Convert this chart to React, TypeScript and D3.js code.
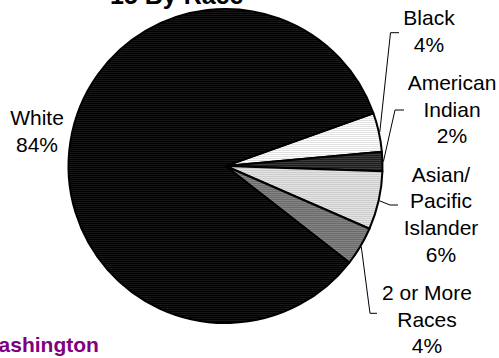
import React from "react";
import * as d3 from "d3";

// Share of the population by race (percent)
const categories = ["Black", "American Indian", "Asian/ Pacific Islander", "2 or More Races", "White"];
const values = [4, 2, 6, 4, 84];
const labelLines = [
  ["Black", "4%"],
  ["American", "Indian", "2%"],
  ["Asian/", "Pacific", "Islander", "6%"],
  ["2 or More", "Races", "4%"],
  ["White", "84%"],
];

const W = 499;
const H = 358;
const cx = 225.5;
const cy = 166;
const R = 157;
const FONT = "'Liberation Sans', Arial, Helvetica, sans-serif";
const LINE_H = 26.7;

// label placement: centre x, first baseline, optional leader elbow
const labelLayout = [
  { x: 429, y: 25, elbow: [390.5, 32.7], end: 399 },
  { x: 452, y: 90, elbow: [395, 110], end: 404 },
  { x: 441, y: 181.7, elbow: [390, 205], end: 398 },
  { x: 427, y: 300, elbow: [370, 313.3], end: 377 },
  { x: 37, y: 125, elbow: null, end: 0 },
];

// fill textures: base colour with a fine dot grid
const textures = [
  { id: "tex-black", base: "#ffffff", dot: "#c4c4c4" },
  { id: "tex-amind", base: "#1e1e1e", dot: "#5a5a5a" },
  { id: "tex-asian", base: "#e4e4e4", dot: "#b4b4b4" },
  { id: "tex-multi", base: "#6a6a6a", dot: "#a0a0a0" },
  { id: "tex-white", base: "#000000", dot: "#2e2e2e" },
];

export default function App() {
  const startDeg = 70.35;
  const pie = d3
    .pie<number>()
    .sort(null)
    .value((d) => d)
    .startAngle((startDeg * Math.PI) / 180)
    .endAngle((startDeg * Math.PI) / 180 + 2 * Math.PI);
  const arcs = pie(values);
  const arcGen = d3.arc<d3.PieArcDatum<number>>().innerRadius(0).outerRadius(R);

  const pointAt = (a: number, r: number) => [cx + r * Math.sin(a), cy - r * Math.cos(a)];

  return (
    <svg width={W} height={H} style={{ position: "absolute", left: 0, top: 0, background: "#fff" }}>
      <defs>
        {textures.map((t) => (
          <pattern key={t.id} id={t.id} width={2} height={2} patternUnits="userSpaceOnUse">
            <rect width={2} height={2} fill={t.base} />
            <rect width={1} height={1} fill={t.dot} />
          </pattern>
        ))}
      </defs>

      <text x={110} y={3.5} fontFamily={FONT} fontWeight="bold" fontSize={25} fill="#000">
        15 By Race
      </text>

      <g transform={`translate(${cx},${cy})`}>
        {arcs.map((a, i) => (
          <path
            key={categories[i]}
            d={arcGen(a) || ""}
            fill={`url(#${textures[i].id})`}
            stroke="#000"
            strokeWidth={2}
            strokeLinejoin="round"
          />
        ))}
      </g>

      {arcs.map((a, i) => {
        const lay = labelLayout[i];
        if (!lay.elbow) return null;
        const mid = (a.startAngle + a.endAngle) / 2;
        const [px, py] = pointAt(mid, R + 1);
        return (
          <polyline
            key={"leader-" + categories[i]}
            points={`${px},${py} ${lay.elbow[0]},${lay.elbow[1]} ${lay.end},${lay.elbow[1]}`}
            fill="none"
            stroke="#000"
            strokeWidth={1}
          />
        );
      })}

      {labelLines.map((lines, i) => (
        <text
          key={"label-" + categories[i]}
          x={labelLayout[i].x}
          y={labelLayout[i].y}
          textAnchor="middle"
          fontFamily={FONT}
          fontSize={21}
          fill="#000"
        >
          {lines.map((ln, j) => (
            <tspan key={j} x={labelLayout[i].x} y={labelLayout[i].y + j * LINE_H}>
              {ln}
            </tspan>
          ))}
        </text>
      ))}

      <text x={-20.5} y={352} fontFamily={FONT} fontWeight="bold" fontSize={21} fill="#800080">
        Washington
      </text>
    </svg>
  );
}
